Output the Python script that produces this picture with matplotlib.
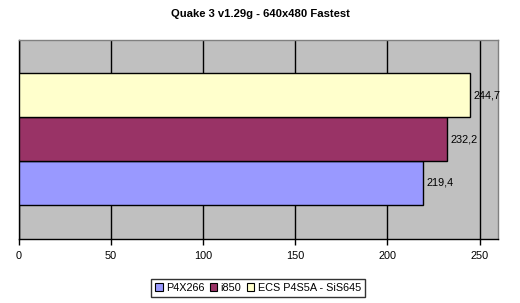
import matplotlib
matplotlib.use("Agg")
import matplotlib.pyplot as plt
from matplotlib.patches import Patch

# ── Data ──────────────────────────────────────────────────────────────────────

series = ["P4X266", "i850", "ECS P4S5A - SiS645"]
values = [219.4, 232.2, 244.7]
colors = ["#9999FF", "#993366", "#FFFFCC"]
xticks = [0, 50, 100, 150, 200, 250]
title = "Quake 3 v1.29g - 640x480 Fastest"

plt.rcParams["font.family"] = ["Liberation Sans", "DejaVu Sans"]

fig = plt.figure(figsize=(5.2, 3.03), dpi=100)
ax = fig.add_axes([19 / 520, 1 - 238.5 / 303, 479 / 520, 199 / 303])
ax.set_facecolor("#C0C0C0")

bar_h = 0.2195
offsets = [-bar_h, 0, bar_h]
for off, val, col in zip(offsets, values, colors):
    ax.barh(off, val, height=bar_h, color=col, edgecolor="black", linewidth=1, zorder=3)
    ax.text(val + 2, off, f"{val:.1f}".replace(".", ","), va="center", ha="left",
            fontsize=7.8, zorder=4)

ax.set_xlim(0, 260)
ax.set_ylim(-0.5, 0.5)
ax.set_xticks(xticks)
ax.set_yticks([])
ax.tick_params(axis="x", direction="out", length=4, width=1, labelsize=7.8, pad=5)
ax.grid(axis="x", color="black", linewidth=1, zorder=1)

for side in ["top", "right"]:
    ax.spines[side].set_color("#808080")
    ax.spines[side].set_linewidth(1)
for side in ["left", "bottom"]:
    ax.spines[side].set_color("black")
    ax.spines[side].set_linewidth(1)

fig.text(0.5, 1 - 14 / 303, title, ha="center", va="center", fontsize=8.1,
         fontweight="bold")

handles = [Patch(facecolor=c, edgecolor="black", linewidth=0.8, label=s)
           for s, c in zip(series, colors)]
leg = fig.legend(handles=handles, loc="center", bbox_to_anchor=(258 / 520, 1 - 288 / 303),
                 ncol=3, fontsize=7.8, frameon=True, fancybox=False, handlelength=0.7,
                 handleheight=0.7, handletextpad=0.3, columnspacing=0.5,
                 borderpad=0.4, edgecolor="black")
leg.get_frame().set_linewidth(1)

fig.savefig("out.png", dpi=100)
